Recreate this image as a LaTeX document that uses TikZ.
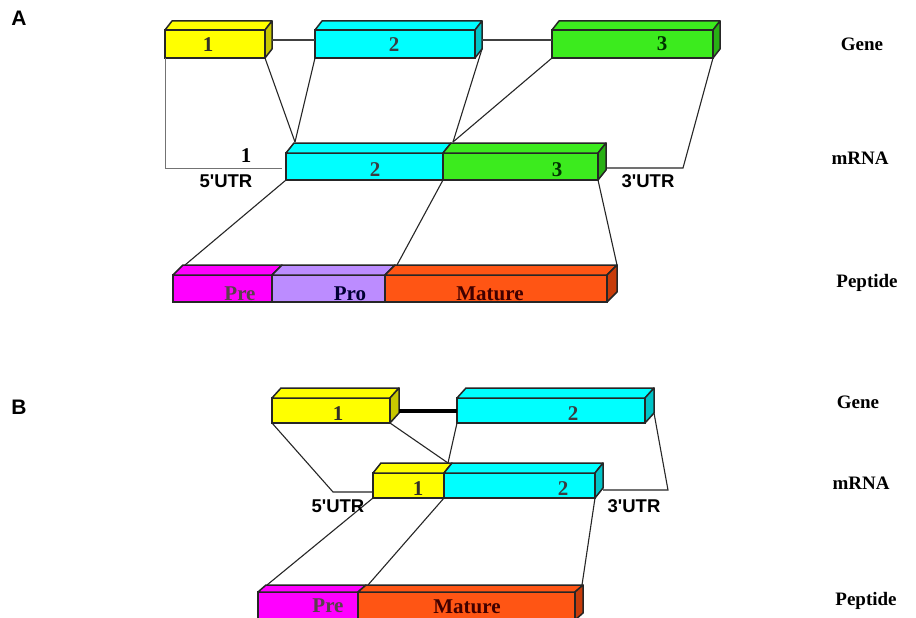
\documentclass[tikz,border=0pt]{standalone}
\usepackage{fontspec}
\setmainfont{Liberation Serif}
\setsansfont{Liberation Sans}[Ligatures=TeXOff]
\usetikzlibrary{calc}

\definecolor{exyel}{HTML}{FFFF00}
\definecolor{exyelside}{HTML}{C8C800}
\definecolor{excya}{HTML}{00FFFF}
\definecolor{excyaside}{HTML}{00C4C8}
\definecolor{exgre}{HTML}{3CEB1E}
\definecolor{exgreside}{HTML}{28B014}
\definecolor{pepmag}{HTML}{FF00FF}
\definecolor{peppro}{HTML}{BC8CFF}
\definecolor{pepmat}{HTML}{FF5514}
\definecolor{pepmatside}{HTML}{C83C0A}

\tikzset{
  seg/.style={draw=black!85, line width=1.5pt, inner sep=0pt, outer sep=0pt, anchor=north west},
  face/.style={draw=black!85, line width=1.5pt, line join=round},
  link/.style={draw=black!85, line width=1.1pt},
  utr/.style={draw=black!55, line width=1pt},
  intron/.style={draw=black!75, line width=2.2pt},
  bigintron/.style={draw=black, line width=4pt},
  num/.style={font=\bfseries\fontsize{21}{21}\selectfont, inner sep=0pt},
  rowlab/.style={font=\bfseries\fontsize{19}{19}\selectfont, inner sep=0pt},
  utrlab/.style={font=\sffamily\bfseries\fontsize{18.5}{18.5}\selectfont, inner sep=0pt},
  panel/.style={font=\sffamily\bfseries\fontsize{21}{21}\selectfont, inner sep=0pt}
}

% one block: name, x, y, width, height, fill
\newcommand{\exonseg}[6]{\node[seg, fill=#6, minimum width=#4, minimum height=#5] (#1) at (#2,#3) {};}
% top and side faces: node, colour, dx, dy
\newcommand{\topface}[4]{\filldraw[face, fill=#2] (#1.north west) -- ++(#3,-#4) -- ($(#1.north east)+(#3,-#4)$) -- (#1.north east) -- cycle;}
\newcommand{\sideface}[4]{\filldraw[face, fill=#2] (#1.north east) -- ++(#3,-#4) -- ($(#1.south east)+(#3,-#4)$) -- (#1.south east) -- cycle;}

\begin{document}
\begin{tikzpicture}[x=1pt,y=-1pt]
  \useasboundingbox[fill=white] (0,0) rectangle (916,618);
  \clip (0,0) rectangle (916,618);

  % ---------------- panel A ----------------
  \node[panel] (pA) at (19,18) {A};

  % gene
  \exonseg{g1}{165}{30}{100}{28}{exyel}
  \exonseg{g2}{315}{30}{160}{28}{excya}
  \exonseg{g3}{552}{30}{161}{28}{exgre}
  \foreach \g/\c/\s in {g1/exyel/exyelside, g2/excya/excyaside, g3/exgre/exgreside} {
    \topface{\g}{\c}{7}{9}
    \sideface{\g}{\s}{7}{9}
  }
  \draw[intron] ($(g1.east)+(7,-4)$) -- ($(g2.west)+(0,-4)$);
  \draw[intron] ($(g2.east)+(7,-4)$) -- ($(g3.west)+(0,-4)$);

  % mRNA
  \exonseg{m2}{286}{153}{157}{27}{excya}
  \exonseg{m3}{443}{153}{155}{27}{exgre}
  \topface{m2}{excya}{8}{10}
  \topface{m3}{exgre}{8}{10}
  \sideface{m3}{exgreside}{8}{10}

  % peptide
  \exonseg{pre}{173}{275}{99}{27}{pepmag}
  \exonseg{pro}{272}{275}{113}{27}{peppro}
  \exonseg{mat}{385}{275}{222}{27}{pepmat}
  \topface{pre}{pepmag}{10}{10}
  \topface{pro}{peppro}{10}{10}
  \topface{mat}{pepmat}{10}{10}
  \sideface{mat}{pepmatside}{10}{10}

  % gene -> mRNA
  \coordinate (utr3a) at (683,168);
  \draw[utr] (g1.south west) |- ($(m2.south west)+(-4,-12)$);
  \draw[link] (g1.south east) -- ($(m2.north west)+(9,-11)$);
  \draw[link] (g2.south west) -- ($(m2.north west)+(9,-11)$);
  \draw[link] ($(g2.south east)+(7,-9)$) -- ($(m3.north west)+(10,-11)$);
  \draw[link] (g3.south west) -- ($(m3.north west)+(10,-11)$);
  \draw[link] ($(m3.south east)+(8,-12)$) -- (utr3a) -- (g3.south east);

  % mRNA -> peptide
  \draw[link] (m2.south west) -- ($(pre.north west)+(12,-10)$);
  \draw[link] (m3.south west) -- ($(mat.north west)+(12,-10)$);
  \draw[link] (m3.south east) -- ($(mat.north east)+(10,-10)$);

  % labels
  \node[num, text=black!85!olive] (g1t) at (208,45) {1};
  \node[num, text=black!85!cyan] (g2t) at (394,45) {2};
  \node[num, text=black!80!green] (g3t) at (662,44) {3};
  \node[num, text=black] (m1t) at (246,156) {1};
  \node[num, text=black!85!cyan] (m2t) at (375,170) {2};
  \node[num, text=black!80!green] (m3t) at (557,170) {3};
  \node[utrlab] (u5a) at (226,181) {5'UTR};
  \node[utrlab] (u3a) at (648,181) {3'UTR};
  \node[num, text=black!75!magenta] (pret) at (240,294) {Pre};
  \node[num, text=black!80!blue] (prot) at (350,294) {Pro};
  \node[num, text=black!75!red] (matt) at (490,294) {Mature};

  \node[rowlab] (geneA) at (862,44) {Gene};
  \node[rowlab] (mrnaA) at (860,158) {mRNA};
  \node[rowlab] (pepA) at (867,283) {Peptide};

  % ---------------- panel B ----------------
  \node[panel] (pB) at (19,407) {B};

  % gene
  \exonseg{b1}{272}{398}{118}{25}{exyel}
  \exonseg{b2}{457}{398}{188}{25}{excya}
  \topface{b1}{exyel}{9}{10}
  \sideface{b1}{exyelside}{9}{10}
  \topface{b2}{excya}{9}{10}
  \sideface{b2}{excyaside}{9}{10}
  \draw[bigintron] ($(b1.east)+(9,0)$) -- (b2.west);

  % mRNA
  \exonseg{mb1}{373}{473}{71}{25}{exyel}
  \exonseg{mb2}{444}{473}{151}{25}{excya}
  \topface{mb1}{exyel}{8}{10}
  \topface{mb2}{excya}{8}{10}
  \sideface{mb2}{excyaside}{8}{10}

  % peptide
  \exonseg{pb1}{258}{592}{100}{28}{pepmag}
  \exonseg{pb2}{358}{592}{217}{28}{pepmat}
  \topface{pb1}{pepmag}{8}{7}
  \topface{pb2}{pepmat}{8}{7}
  \sideface{pb2}{pepmatside}{8}{7}

  % gene -> mRNA
  \coordinate (utr5b) at (333,492);
  \coordinate (utr3b) at (668,490);
  \draw[link] (b1.south west) -- (utr5b) -- ($(mb1.south west)+(0,-6)$);
  \draw[link] (b1.south east) -- ($(mb2.north west)+(4,-10)$);
  \draw[link] (b2.south west) -- ($(mb2.north west)+(4,-10)$);
  \draw[link] ($(b2.south east)+(9,-10)$) -- (utr3b) -- ($(mb2.south east)+(8,-8)$);

  % mRNA -> peptide
  \draw[link] (mb1.south west) -- ($(pb1.north west)+(9,-7)$);
  \draw[link] (mb2.south west) -- ($(pb2.north west)+(10,-7)$);
  \draw[link] (mb2.south east) -- ($(pb2.north east)+(7,-7)$);

  % labels
  \node[num, text=black!85!olive] (b1t) at (338,414) {1};
  \node[num, text=black!85!cyan] (b2t) at (573,414) {2};
  \node[num, text=black!85!olive] (mb1t) at (418,489) {1};
  \node[num, text=black!85!cyan] (mb2t) at (563,489) {2};
  \node[utrlab] (u5b) at (338,506) {5'UTR};
  \node[utrlab] (u3b) at (634,506) {3'UTR};
  \node[num, text=black!75!magenta] (pbt1) at (328,606) {Pre};
  \node[num, text=black!75!red] (pbt2) at (467,607) {Mature};

  \node[rowlab] (geneB) at (858,402) {Gene};
  \node[rowlab] (mrnaB) at (861,483) {mRNA};
  \node[rowlab] (pepB) at (866,601) {Peptide};
\end{tikzpicture}
\end{document}
